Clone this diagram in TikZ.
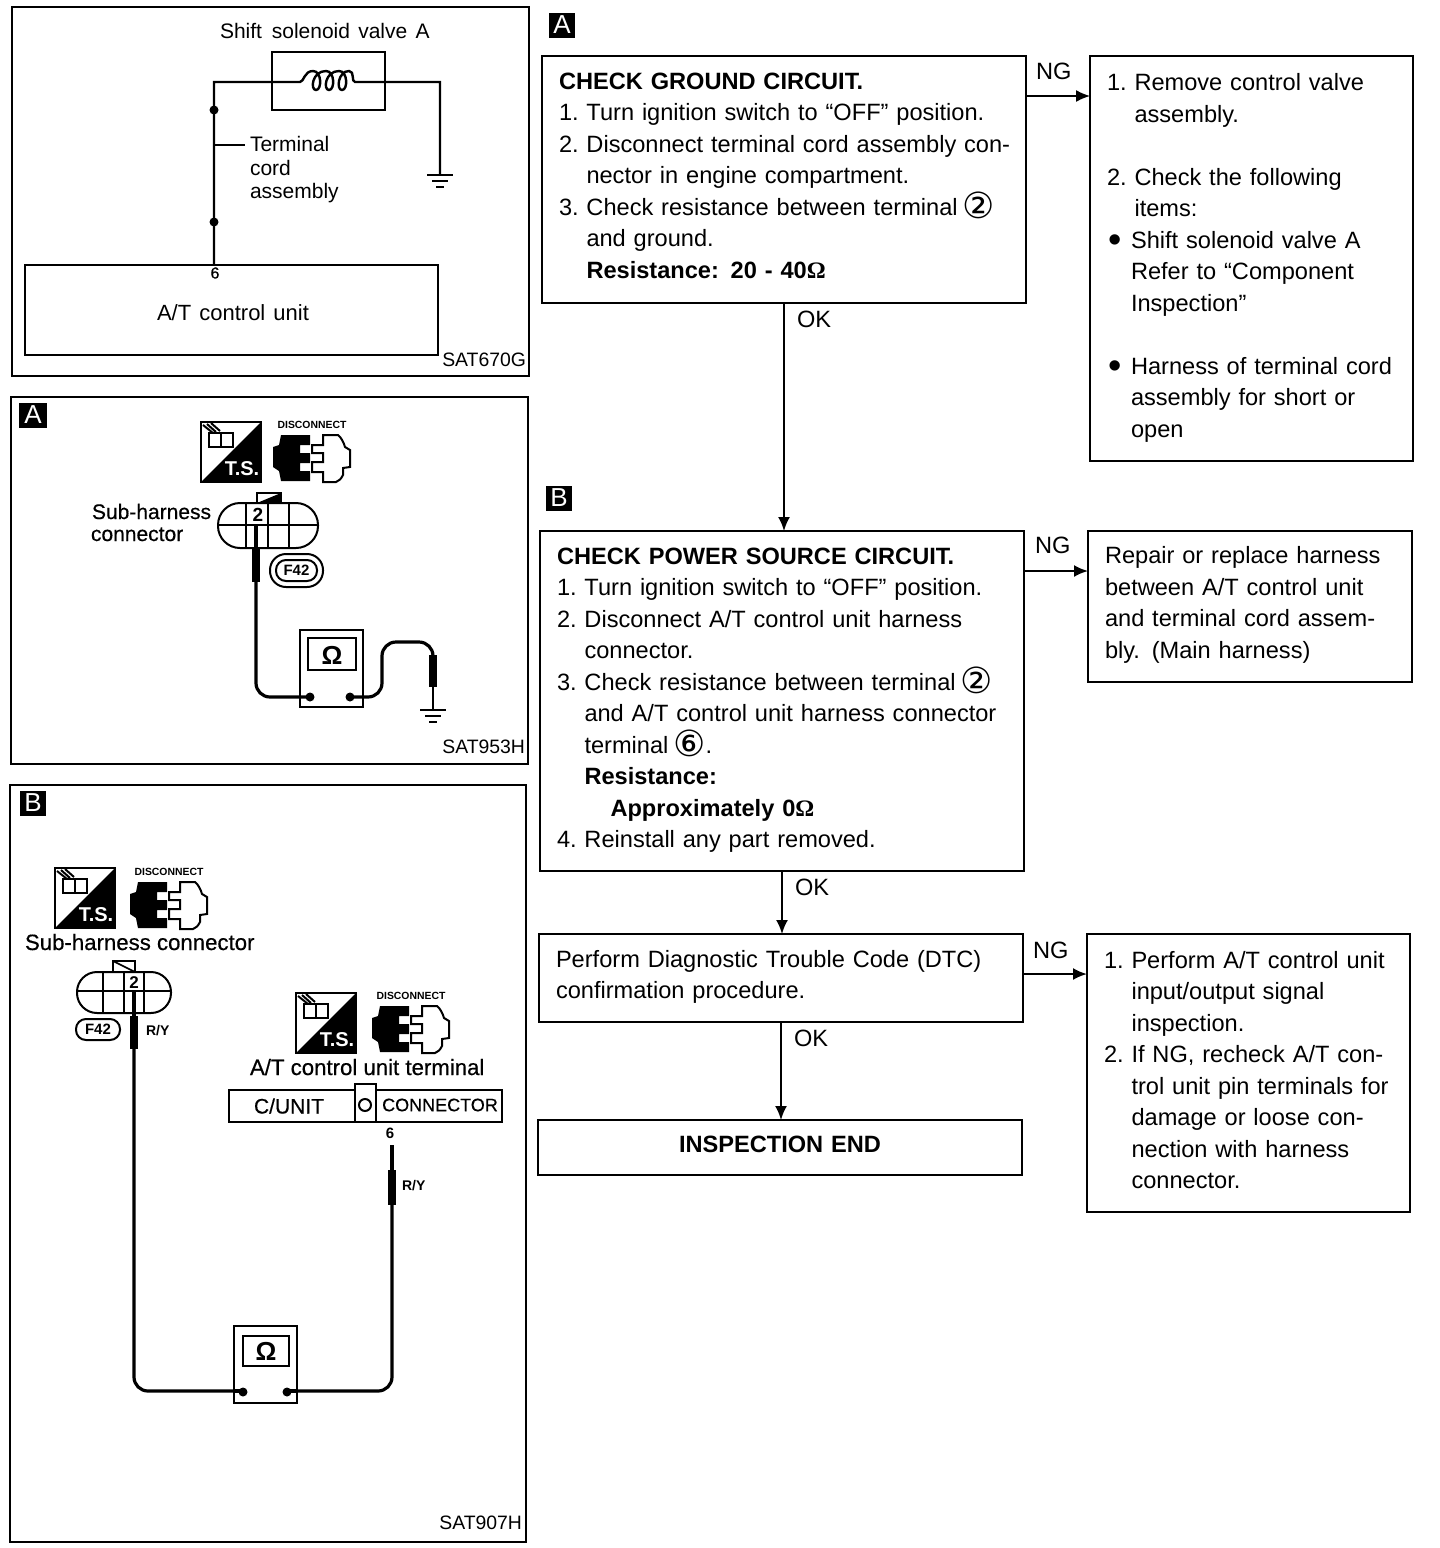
\documentclass[tikz,border=0pt]{standalone}
\usepackage{fontspec}
\setmainfont{Liberation Sans}
\newfontfamily\djv{DejaVu Sans}
\newfontfamily\lserif{Liberation Serif}
\newfontfamily\hvy[FakeBold=0.5]{Liberation Sans}
\usetikzlibrary{arrows.meta,calc}
\newcommand{\nit}[2]{\makebox[13.75pt][l]{#1}\mbox{#2}}
\newcommand{\cnt}{\hspace*{13.75pt}}
\newcommand{\bit}[1]{\hspace*{0.7pt}\makebox[11.3pt][l]{\raisebox{-2.3pt}{\fontsize{19}{19}\selectfont\smash{\textbullet}}}#1}
\newcommand{\bcnt}{\hspace*{12pt}}
\newcommand{\circd}[1]{\hspace*{-1.5pt}\raisebox{-1.5pt}{\smash{\djv\fontsize{18}{18}\selectfont #1}}}
\newcommand{\omg}{{\lserif\bfseries Ω}}
\newcommand{\vup}[1]{\rule[-#1pt]{0pt}{0pt}}
\tikzset{
  x=0.5pt,y=-0.5pt,
  every node/.style={outer sep=0pt},
  panel/.style={draw,line width=1pt,fill=white},
  flowbox/.style={draw,line width=1pt,anchor=north west,align=left,inner xsep=8.5pt,inner ysep=0pt,
    font=\fontsize{11.8}{15.75}\selectfont},
  flowarrow/.style={line width=1pt,-{Latex[length=7pt,width=6pt]}},
  tagbox/.style={fill=black,text=white,font=\fontsize{13}{13}\selectfont,minimum width=13pt,minimum height=12.5pt,inner sep=0pt},
  flaglbl/.style={font=\fontsize{11.8}{12}\selectfont,anchor=base west,inner sep=0pt},
  caplbl/.style={font=\fontsize{10.5}{12}\selectfont,anchor=base west,inner sep=0pt},
  hvylbl/.style={font=\hvy\fontsize{10.5}{12}\selectfont,anchor=base west,inner sep=0pt},
  hvybig/.style={font=\hvy\fontsize{11.1}{12}\selectfont,anchor=base west,inner sep=0pt},
  codelbl/.style={font=\fontsize{9.7}{10}\selectfont,anchor=base east,inner sep=0pt},
  wirepath/.style={line width=1.6pt,rounded corners=7pt},
  probehandle/.style={line width=4pt},
  tsicon/.pic={
    \draw[line width=1pt,fill=white] (0,0) rectangle (60,60);
    \fill (60,0)--(60,60)--(0,60)--cycle;
    \draw[line width=0.9pt] (8,11) rectangle (20,25) (20,11) rectangle (32,25);
    \draw[line width=1pt] (2,3)--(12,11) (6,2)--(15,10) (10,1)--(19,9);
    \node[font=\bfseries\fontsize{10}{10}\selectfont,text=white,inner sep=0pt] (-ts) at (41,47) {T.S.};
  },
  discicon/.pic={
    \node[font=\bfseries\fontsize{5.2}{6}\selectfont,inner sep=0pt] (-lbl) at (39,-10) {DISCONNECT};
    \fill (8,0)--(37,0)--(37,10)--(27,10)--(27,18)--(37,18)--(37,28)--(27,28)--(27,36)--(37,36)--(37,46)--(8,46)--(6,36)--(0,32)--(0,12)--(6,10)--cycle;
    \draw[line width=1pt,fill=white] (50,0)--(65,0)..controls (68,2) and (71,8)..(72,12)--(77,15)--(77,32)--(70,33)--(70,40)..controls (68,44) and (66,46)..(63,47)--(50,47)--(50,37)--(39,37)--(39,27)--(50,27)--(50,18)--(39,18)--(39,10)--(50,10)--cycle;
  },
  groundsym/.pic={
    \draw[line width=1.2pt] (-13,0)--(13,0) (-8,6)--(8,6) (-4,12)--(4,12);
  },
}
\begin{document}
\begin{tikzpicture}
\useasboundingbox (0,0) rectangle (1440,1548);
\fill[white] (0,0) rectangle (1440,1548);

% ---- panels
\draw[panel] (12,7) rectangle (529,376);
\draw[panel] (11,397) rectangle (528,764);
\draw[panel] (10,785) rectangle (526,1542);

% ---- panel 1: circuit
\node[caplbl] (shiftlbl) at (220,38) {Shift\hspace{2pt} solenoid\hspace{1.2pt} valve\hspace{1.2pt} A};
\node[draw,line width=0.9pt,anchor=north west,minimum width=56.5pt,minimum height=29pt,inner sep=0pt] (sol) at (272,52) {};
\node[draw,line width=1pt,anchor=north west,minimum width=206.5pt,minimum height=45pt,inner sep=0pt] (tcu) at (25,265) {};
\node[font=\fontsize{11}{12}\selectfont,inner sep=0pt] (tculbl) at (233,313) {A/T\hspace{1pt} control\hspace{1pt} unit};
\node[font=\hvy\fontsize{8}{10}\selectfont,inner sep=0pt] (six) at (215,273) {6};
\coordinate (coilL) at (300,82);
\coordinate (coilR) at (355,82);
\coordinate (gnd) at (440,175);
\draw[line width=1.2pt] (214,265) -- (214,82) -- (coilL)
  .. controls (304,82) and (304,71) .. (313,71)
  .. controls (322,71) and (322,90) .. (316,90)
  .. controls (310,90) and (312,71) .. (326,71)
  .. controls (335,71) and (335,90) .. (329,90)
  .. controls (323,90) and (325,71) .. (339,71)
  .. controls (348,71) and (348,90) .. (342,90)
  .. controls (336,90) and (338,71) .. (349,71)
  .. controls (355,71) and (351,82) .. (coilR)
  -- (440,82) -- (gnd);
\fill (214,110) circle (4.5);
\fill (214,222) circle (4.5);
\pic at (gnd) {groundsym};
\draw[line width=0.9pt] (214,145) -- (245,145);
\node[caplbl] (term1) at (250,151) {Terminal};
\node[caplbl] (term2) at (250,175) {cord};
\node[caplbl] (term3) at (250,198) {assembly};
\node[codelbl] (sat1) at (526,366) {SAT670G};

% ---- panel 2: A
\node[tagbox,minimum width=14pt] (tagPA) at (33,415) {A};
\pic (tsA) at (201,422) {tsicon};
\pic (dcA) at (273,435) {discicon};
\node[hvylbl] (subA1) at (92,519) {Sub-harness};
\node[hvylbl] (subA2) at (91,541) {connector};
\draw[line width=1pt,rounded corners=11pt,fill=white] (268,503) -- (318,503) -- (318,548) -- (218,548) -- (218,503) -- cycle;
\draw[line width=1pt] (218,525) -- (318,525) (246,503) -- (246,548) (268,503) -- (268,548) (289,503) -- (289,548);
\draw[line width=1pt,fill=white] (257,503) -- (257,493) -- (281,493) -- (281,503) -- cycle;
\fill (257,503) -- (281,493) -- (281,503) -- cycle;
\node[font=\bfseries\fontsize{9.5}{10}\selectfont,inner sep=0pt] (twoA) at (258,515) {2};
\draw[line width=1.6pt] (256,525) -- (256,548);
\draw[probehandle] (256,548) -- (256,582);
\draw[wirepath] (256,582) -- (256,697) -- (310,697);
\node[draw,line width=1pt,rounded corners=8pt,minimum width=26.5pt,minimum height=16.5pt,inner sep=0pt] (f42Ao) at (296.5,570.5) {};
\node[draw,line width=1pt,rounded corners=5pt,minimum width=20.5pt,minimum height=10.5pt,inner sep=0pt,font=\bfseries\fontsize{7.5}{8}\selectfont] (f42A) at (296.5,570.5) {F42};
\node[draw,line width=1pt,anchor=north west,minimum width=31.5pt,minimum height=38.5pt,inner sep=0pt] (mA) at (300,630) {};
\node[draw,line width=1.3pt,anchor=north west,minimum width=24pt,minimum height=16pt,inner sep=0pt] (wA) at (308,638) {};
\node[font=\bfseries\fontsize{13}{13}\selectfont,inner sep=0pt] (omA) at (332,655) {Ω};
\fill (310,697) circle (4.5) (350,697) circle (4.5);
\draw[wirepath] (350,697) -- (382,697) -- (382,642) -- (433,642) -- (433,655);
\draw[probehandle] (433,655) -- (433,687);
\draw[line width=1pt] (433,687) -- (433,710);
\pic at (433,710) {groundsym};
\node[codelbl] (sat2) at (525,753) {SAT953H};

% ---- panel 3: B
\node[tagbox] (tagPB) at (33,803) {B};
\pic (tsB) at (55,868) {tsicon};
\pic (dcB) at (130,882) {discicon};
\node[hvybig] (subB) at (25,950) {Sub-harness connector};
\draw[line width=1pt,rounded corners=10pt,fill=white] (124,972) -- (171,972) -- (171,1013) -- (77,1013) -- (77,972) -- cycle;
\draw[line width=1pt] (77,991) -- (171,991) (103,972) -- (103,1013) (124,972) -- (124,1013) (144,972) -- (144,1013);
\draw[line width=1pt,fill=white] (113,972) -- (113,961) -- (135,961) -- (135,972) -- cycle;
\draw[line width=0.8pt] (113,961) -- (135,972);
\node[font=\bfseries\fontsize{8.5}{10}\selectfont,inner sep=0pt,fill=white] (twoB) at (134,983) {2};
\draw[line width=1.6pt] (134,991) -- (134,1016);
\draw[probehandle] (134,1016) -- (134,1049);
\node[draw,line width=1pt,rounded corners=5pt,minimum width=22pt,minimum height=10.5pt,inner sep=0pt,font=\bfseries\fontsize{7.5}{8}\selectfont] (f42B) at (98,1029.5) {F42};
\node[font=\bfseries\fontsize{7}{8}\selectfont,anchor=base west,inner sep=0pt] (ryB1) at (146,1035) {R/Y};
\pic (tsC) at (296,993) {tsicon};
\pic (dcC) at (372,1006) {discicon};
\node[hvybig] (atB) at (250,1075) {A/T control unit terminal};
\node[draw,line width=1pt,anchor=north west,minimum width=136.5pt,minimum height=16pt,inner sep=0pt] (cbar) at (229,1090) {};
\node[draw,line width=1pt,fill=white,anchor=north west,minimum width=10.5pt,minimum height=19pt,inner sep=0pt] (ctab) at (355,1084) {};
\draw[line width=1pt] (365,1105) circle (6);
\node[font=\hvy\fontsize{10.5}{12}\selectfont,inner sep=0pt] (cunit) at (289,1106) {C/UNIT};
\node[font=\hvy\fontsize{9}{12}\selectfont,inner sep=0pt] (cconn) at (440,1105) {CONNECTOR};
\node[font=\bfseries\fontsize{7.5}{8}\selectfont,inner sep=0pt] (sixB) at (390,1133) {6};
\draw[line width=1.6pt] (392,1145) -- (392,1170);
\draw[probehandle] (392,1170) -- (392,1205);
\node[font=\bfseries\fontsize{7}{8}\selectfont,anchor=base west,inner sep=0pt] (ryB2) at (402,1190) {R/Y};
\draw[wirepath] (134,1049) -- (134,1391) -- (243,1391);
\draw[wirepath] (392,1205) -- (392,1391) -- (287,1391);
\node[draw,line width=1pt,fill=white,anchor=north west,minimum width=31.5pt,minimum height=38.5pt,inner sep=0pt] (mB) at (234,1326) {};
\node[draw,line width=1.3pt,anchor=north west,minimum width=23pt,minimum height=15pt,inner sep=0pt] (wB) at (243,1336) {};
\node[font=\bfseries\fontsize{13}{13}\selectfont,inner sep=0pt] (omB) at (266,1351) {Ω};
\draw[line width=1.6pt] (234,1391) -- (243,1391) (287,1391) -- (297,1391);
\fill (243,1392) circle (4.5) (287,1392) circle (4.5);
\node[codelbl] (sat3) at (522,1529) {SAT907H};

% ---- flow chart
\node[tagbox] (tagA) at (562,25) {A};
\node[tagbox] (tagB) at (559,498) {B};

\node[flowbox,text width=225pt,minimum height=123.5pt] (a) at (542,56) {%
\textbf{CHECK GROUND CIRCUIT.}\\
\nit{1.}{Turn ignition switch to “OFF” position.}\\
\nit{2.}{Disconnect terminal cord assembly con-}\\
\cnt nector in engine compartment.\\
\nit{3.}{Check resistance between terminal \circd{②}}\\
\cnt and ground.\\
\cnt\textbf{Resistance: 20 - 40}\omg\vup{4}};

\node[flowbox,text width=144.5pt,minimum height=202.5pt] (an) at (1090,56) {%
\nit{1.}{Remove control valve}\\
\cnt assembly.\\
\mbox{}\\
\nit{2.}{Check the following}\\
\cnt items:\\
\bit{Shift solenoid valve A}\\
\bcnt Refer to “Component\\
\bcnt Inspection”\\
\mbox{}\\
\bit{Harness of terminal cord}\\
\bcnt assembly for short or\\
\bcnt open\vup{3}};

\node[flowbox,text width=225pt,minimum height=170pt] (b) at (540,531) {%
\textbf{CHECK POWER SOURCE CIRCUIT.}\\
\nit{1.}{Turn ignition switch to “OFF” position.}\\
\nit{2.}{Disconnect A/T control unit harness}\\
\cnt connector.\\
\nit{3.}{Check resistance between terminal \circd{②}}\\
\cnt and A/T control unit harness connector\\
\cnt terminal \circd{⑥}.\\
\cnt\textbf{Resistance:}\\
\cnt\hspace*{13pt}\textbf{Approximately 0}\omg\\
\nit{4.}{Reinstall any part removed.}\vup{3}};

\node[flowbox,text width=145pt,minimum height=75.5pt] (bn) at (1088,531) {%
Repair or replace harness\\
between A/T control unit\\
and terminal cord assem-\\
bly. (Main harness)\vup{4}};

\node[flowbox,text width=225pt,minimum height=44pt] (c) at (539,934) {%
Perform Diagnostic Trouble Code (DTC)\\
confirmation procedure.\vup{3.5}};

\node[flowbox,text width=144.5pt,minimum height=139pt] (cn) at (1087,934) {%
\nit{1.}{Perform A/T control unit}\\
\cnt input/output signal\\
\cnt inspection.\\
\nit{2.}{If NG, recheck A/T con-}\\
\cnt trol unit pin terminals for\\
\cnt damage or loose con-\\
\cnt nection with harness\\
\cnt connector.\vup{3}};

\node[flowbox,align=center,text width=225pt,minimum height=27.5pt] (e) at (538,1120) {\textbf{INSPECTION END}\vup{3}};

\coordinate (a1) at ([yshift=-20pt]a.north east);
\coordinate (b1) at ([yshift=-20pt]b.north east);
\coordinate (c1) at ([yshift=-20pt]c.north east);
\draw[flowarrow,line width=0.7pt] (a1) -- (an.west |- a1);
\draw[flowarrow] (a.south) -- (a.south |- b.north);
\draw[flowarrow] (b1) -- (bn.west |- b1);
\draw[flowarrow] (b.south) -- (b.south |- c.north);
\draw[flowarrow] (c1) -- (cn.west |- c1);
\draw[flowarrow] (c.south) -- (c.south |- e.north);

\node[flaglbl] (ng1) at (1036,79) {NG};
\node[flaglbl] (ok1) at (797,327) {OK};
\node[flaglbl] (ng2) at (1035,553) {NG};
\node[flaglbl] (ok2) at (795,895) {OK};
\node[flaglbl] (ng3) at (1033,958) {NG};
\node[flaglbl] (ok3) at (794,1046) {OK};
\end{tikzpicture}
\end{document}
